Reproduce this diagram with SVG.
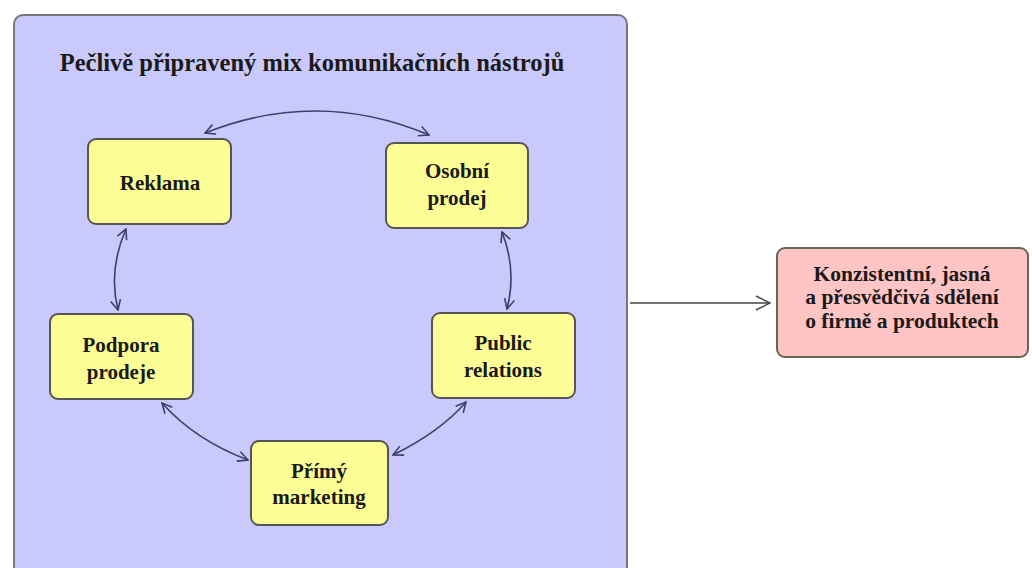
<svg xmlns="http://www.w3.org/2000/svg" width="1032" height="568" viewBox="0 0 1032 568">
<defs>
<style>
.t{font-family:'Liberation Serif','Times New Roman',serif;font-weight:bold;fill:#1a1a1a;text-anchor:middle}
.n{font-size:21px}
.p{font-size:21.5px}
.node{fill:#fdfd96;stroke:#555;stroke-width:2}
.c{fill:none;stroke:#3d3f6e;stroke-width:1.6}
</style>
<marker id="ah" viewBox="0 0 12 12" refX="11" refY="6" markerWidth="12" markerHeight="12" markerUnits="userSpaceOnUse" orient="auto-start-reverse">
<path d="M1,1 L11,6 L1,11" fill="none" stroke="#3d3f6e" stroke-width="1.6"/>
</marker>
<marker id="ah2" viewBox="0 0 16 16" refX="15" refY="8" markerWidth="16" markerHeight="16" markerUnits="userSpaceOnUse" orient="auto">
<path d="M1,1 L15,8 L1,15" fill="none" stroke="#444" stroke-width="1.4"/>
</marker>
</defs>
<rect width="1032" height="568" fill="#fff"/>
<g id="container">
<rect x="14" y="15" width="613" height="570" rx="9" fill="#c9c9fb" stroke="#777" stroke-width="2"/>
<text class="t" x="312" y="71" font-size="24.5" font-family="'Liberation Serif', serif">Pečlivě připravený mix komunikačních nástrojů</text>
</g>
<g id="reklama">
<rect class="node" x="88" y="139" width="143" height="85" rx="8"/>
<text class="t n" x="160" y="190">Reklama</text>
</g>
<g id="osobni-prodej">
<rect class="node" x="386" y="143" width="142" height="85" rx="8"/>
<text class="t n" x="457" y="178">Osobní</text>
<text class="t n" x="457" y="205">prodej</text>
</g>
<g id="public-relations">
<rect class="node" x="432" y="313" width="143" height="85" rx="8"/>
<text class="t n" x="503" y="350">Public</text>
<text class="t n" x="503" y="377">relations</text>
</g>
<g id="podpora-prodeje">
<rect class="node" x="50" y="314" width="143" height="85" rx="8"/>
<text class="t n" x="121" y="352">Podpora</text>
<text class="t n" x="121" y="379">prodeje</text>
</g>
<g id="primy-marketing">
<rect class="node" x="251" y="441" width="137" height="84" rx="8"/>
<text class="t n" x="319" y="478">Přímý</text>
<text class="t n" x="319" y="504">marketing</text>
</g>
<g id="vysledek">
<rect x="777" y="248" width="251" height="109" rx="8" fill="#ffc4c4" stroke="#665" stroke-width="2"/>
<text class="t p" x="902" y="281">Konzistentní, jasná</text>
<text class="t p" x="902" y="304">a přesvědčivá sdělení</text>
<text class="t p" x="902" y="328">o firmě a produktech</text>
</g>
<g id="connectors">
<path class="c" d="M205,133 Q318,88 429,135" marker-start="url(#ah)" marker-end="url(#ah)"/>
<path class="c" d="M126,229 Q108,270 118,310" marker-start="url(#ah)" marker-end="url(#ah)"/>
<path class="c" d="M502,232 Q517,270 507,309" marker-start="url(#ah)" marker-end="url(#ah)"/>
<path class="c" d="M162,403 Q195,440 248,460" marker-start="url(#ah)" marker-end="url(#ah)"/>
<path class="c" d="M466,402 Q440,432 393,455" marker-start="url(#ah)" marker-end="url(#ah)"/>
<path d="M630,303 L770,303" fill="none" stroke="#444" stroke-width="1.4" marker-end="url(#ah2)"/>
</g>
</svg>
